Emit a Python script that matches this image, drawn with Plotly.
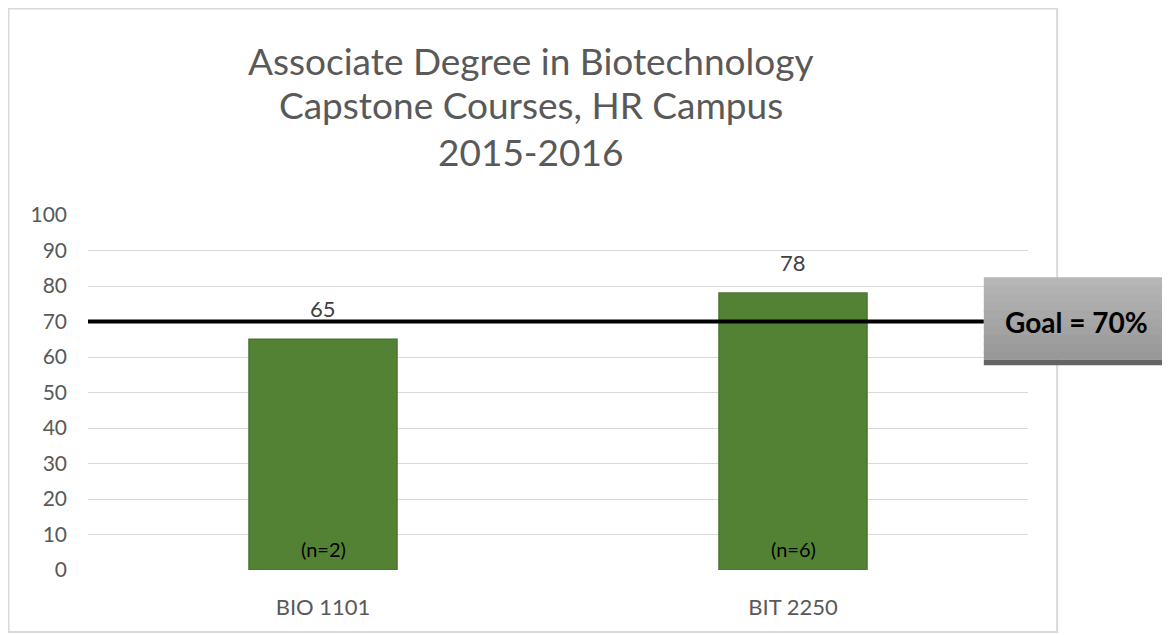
import plotly.graph_objects as go

courses = ["BIO 1101", "BIT 2250"]
scores = [65, 78]
sample_sizes = ["(n=2)", "(n=6)"]
goal = 70
goal_label = "Goal = 70%"
y_ticks = list(range(0, 101, 10))

title_lines = [
    "Associate Degree in Biotechnology",
    "Capstone Courses, HR Campus",
    "2015-2016",
]

grey_text = "#595959"
font_family = "Lato"

fig = go.Figure()

fig.add_trace(
    go.Bar(
        x=courses,
        y=scores,
        width=0.315,
        marker=dict(color="#548235", line=dict(color="#4a7530", width=1.5)),
        hoverinfo="x+y",
    )
)

# value labels above the bars, n= labels at the foot
for course, score, n_text in zip(courses, scores, sample_sizes):
    fig.add_annotation(
        x=course,
        y=score,
        yanchor="bottom",
        yshift=15,
        text=str(score),
        showarrow=False,
        font=dict(family=font_family, size=22, color="#404040"),
    )
    fig.add_annotation(
        x=course,
        y=0,
        yanchor="bottom",
        yshift=7,
        text=n_text,
        showarrow=False,
        font=dict(family=font_family, size=20, color="#000000"),
    )

# goal line
fig.add_shape(
    type="line",
    xref="paper",
    yref="y",
    x0=0,
    x1=0.953,
    y0=goal,
    y1=goal,
    line=dict(color="#000000", width=4),
    layer="above",
)

# goal box, gradient faked with overlapping strips
box_top = 82.5
box_bottom = 59.2
strips = 10
step = (box_top - box_bottom) / strips
for i in range(strips):
    shade = int(182 - 30 * i / (strips - 1))
    fig.add_shape(
        type="rect",
        xref="paper",
        yref="y",
        x0=0.953,
        x1=1.16,
        y0=box_top - step * (i + 1) - (0.4 if i < strips - 1 else 0),
        y1=box_top - step * i,
        fillcolor=f"rgb({shade},{shade},{shade})",
        line=dict(width=0),
        layer="above",
    )
fig.add_shape(
    type="rect",
    xref="paper",
    yref="y",
    x0=0.953,
    x1=1.16,
    y0=box_bottom - 1.5,
    y1=box_bottom,
    fillcolor="#646464",
    line=dict(width=0),
    layer="above",
)
fig.add_annotation(
    xref="paper",
    yref="y",
    x=1.052,
    y=goal,
    xanchor="center",
    yanchor="middle",
    text=f"<b>{goal_label}</b>",
    showarrow=False,
    font=dict(family=font_family, size=28, color="#000000"),
)

# chart frame
fig.add_shape(
    type="rect",
    xref="paper",
    yref="paper",
    x0=-0.0846,
    x1=1.031,
    y0=-0.1746,
    y1=1.5817,
    line=dict(color="#d9d9d9", width=2),
    layer="below",
)

# title lines
title_y = [1.4366, 1.3099, 1.1775]
for line, y in zip(title_lines, title_y):
    fig.add_annotation(
        xref="paper",
        yref="paper",
        x=0.471,
        y=y,
        xanchor="center",
        yanchor="middle",
        text=line,
        showarrow=False,
        font=dict(family=font_family, size=37, color=grey_text),
    )

fig.update_layout(
    width=1162,
    height=627,
    margin=dict(l=80, r=142, t=207, b=65),
    paper_bgcolor="white",
    plot_bgcolor="white",
    showlegend=False,
    bargap=0.685,
    xaxis=dict(
        showgrid=False,
        showline=False,
        ticks="",
        tickfont=dict(family=font_family, size=22, color=grey_text),
        ticklabelstandoff=22,
    ),
    yaxis=dict(
        range=[0, 100],
        tickvals=y_ticks,
        showgrid=True,
        gridcolor="#d9d9d9",
        gridwidth=1,
        zeroline=False,
        showline=False,
        tickfont=dict(family=font_family, size=21, color=grey_text),
        ticklabelstandoff=20,
    ),
)

fig.write_html("out.html")
